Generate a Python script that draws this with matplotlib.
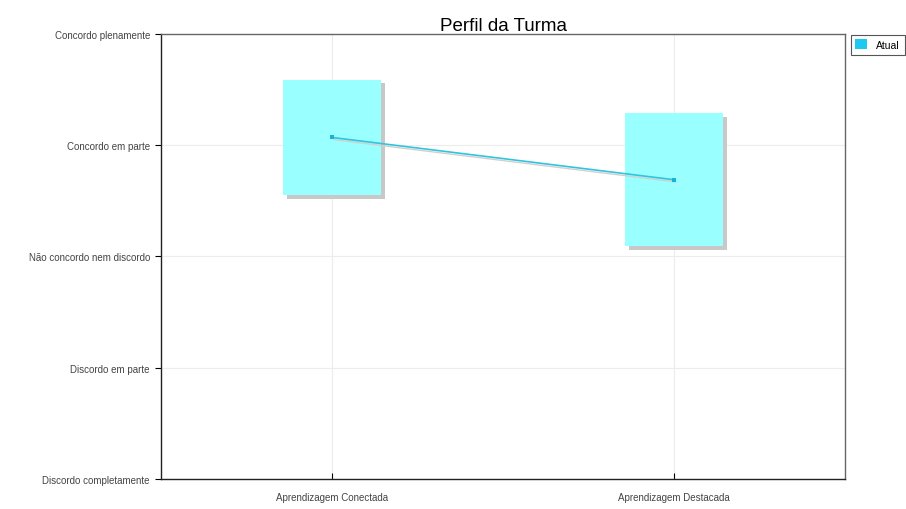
import matplotlib.pyplot as plt
from matplotlib.patches import Rectangle, Patch
import numpy as np

plt.rcParams['font.family'] = ['Liberation Sans', 'DejaVu Sans']

# data
categories = ["Aprendizagem Conectada", "Aprendizagem Destacada"]
means = [4.07, 3.69]
spreads = [0.52, 0.60]
levels = ["Discordo completamente", "Discordo em parte", "Não concordo nem discordo",
          "Concordo em parte", "Concordo plenamente"]
series_name = "Atual"

fig = plt.figure(figsize=(9.06, 5.10), dpi=100)
ax = fig.add_axes([0.1777, 0.0588, 0.755, 0.8726])

x = np.arange(len(categories))
box_w = 0.287
sdx, sdy = 0.012, -0.035  # shadow offset

for xi, m, s in zip(x, means, spreads):
    ax.add_patch(Rectangle((xi - box_w / 2 + sdx, m - s + sdy), box_w, 2 * s,
                           facecolor='#c8c8c8', edgecolor='none', zorder=2))
    ax.add_patch(Rectangle((xi - box_w / 2, m - s), box_w, 2 * s,
                           facecolor='#99ffff', edgecolor='none', zorder=3))

ax.plot(x + 0.006, np.array(means) - 0.02, color='#d0d0d0', lw=1.0, zorder=4)
ax.plot(x, means, color='#33c4dd', lw=1.2, marker='s', markersize=3.5,
        markeredgewidth=0, markerfacecolor='#1ab0d8', zorder=5)

ax.set_xlim(-0.5, 1.5)
ax.set_ylim(1, 5)
ax.set_xticks(x)
ax.set_xticklabels(categories, fontsize=7, color='#444444')
ax.set_yticks(np.arange(1, 6))
ax.set_yticklabels(levels, fontsize=7, color='#444444')
ax.tick_params(axis='y', direction='out', length=4, width=0.8, pad=4)
ax.tick_params(axis='x', direction='in', length=4, width=0.8, pad=9)
ax.grid(True, color='#ececec', lw=0.8, zorder=0)
ax.set_axisbelow(True)
for side in ['left', 'bottom']:
    ax.spines[side].set_color('#222222')
    ax.spines[side].set_linewidth(1.0)
for side in ['top', 'right']:
    ax.spines[side].set_color('#666666')
    ax.spines[side].set_linewidth(1.0)

ax.set_title("Perfil da Turma", fontsize=13.5, pad=3)

leg = fig.legend(handles=[Patch(facecolor='#1ec8f0', edgecolor='none', label=series_name)],
                 loc='upper left', bbox_to_anchor=(0.939, 0.93), fontsize=7.5,
                 handlelength=1.1, handleheight=1.1, handletextpad=0.9,
                 borderpad=0.45, borderaxespad=0, fancybox=False, framealpha=1)
leg.get_frame().set_edgecolor('#555555')
leg.get_frame().set_linewidth(0.8)

fig.savefig("out.png", dpi=100)
